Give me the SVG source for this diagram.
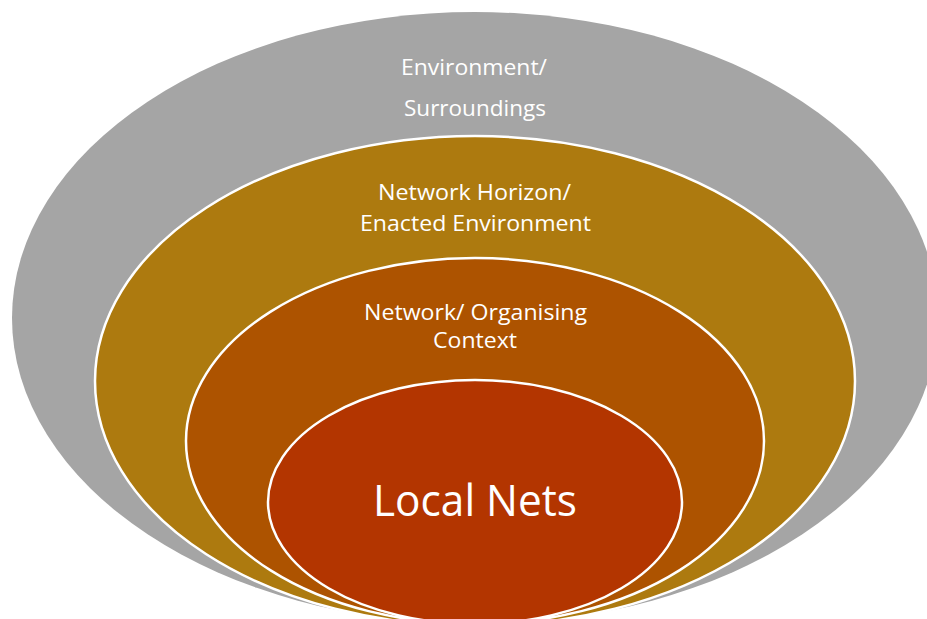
<svg xmlns="http://www.w3.org/2000/svg" width="927" height="619" viewBox="0 0 927 619">
  <style>
    .ring { stroke: #FFFFFF; stroke-width: 2.5; }
    .lbl { font-family: "Open Sans", "Liberation Sans", sans-serif; fill: #FFFFFF; text-anchor: middle; font-size: 22px; }
    .big { font-size: 43px; }
  </style>
  <rect width="927" height="619" fill="#FFFFFF"/>
  <!-- Nested contexts, outermost first -->
  <g id="environment">
    <ellipse cx="475" cy="318" rx="463" ry="306" fill="#A5A5A5"/>
    <text class="lbl" x="474" y="75" textLength="146" lengthAdjust="spacingAndGlyphs">Environment/</text>
    <text class="lbl" x="475" y="116" textLength="142" lengthAdjust="spacingAndGlyphs">Surroundings</text>
  </g>
  <g id="network-horizon">
    <ellipse class="ring" cx="475" cy="381" rx="380" ry="245" fill="#AD7A0F"/>
    <text class="lbl" x="474.5" y="200" textLength="193" lengthAdjust="spacingAndGlyphs">Network Horizon/</text>
    <text class="lbl" x="475.5" y="231" textLength="231" lengthAdjust="spacingAndGlyphs">Enacted Environment</text>
  </g>
  <g id="organising-context">
    <ellipse class="ring" cx="475" cy="441" rx="289" ry="183" fill="#AD5300"/>
    <text class="lbl" x="475.5" y="320" textLength="223" lengthAdjust="spacingAndGlyphs">Network/ Organising</text>
    <text class="lbl" x="475" y="348" textLength="84" lengthAdjust="spacingAndGlyphs">Context</text>
  </g>
  <g id="local-nets">
    <ellipse class="ring" cx="475" cy="502" rx="207" ry="122" fill="#B33500"/>
    <text class="lbl big" x="475" y="516" textLength="204" lengthAdjust="spacingAndGlyphs">Local Nets</text>
  </g>
</svg>
